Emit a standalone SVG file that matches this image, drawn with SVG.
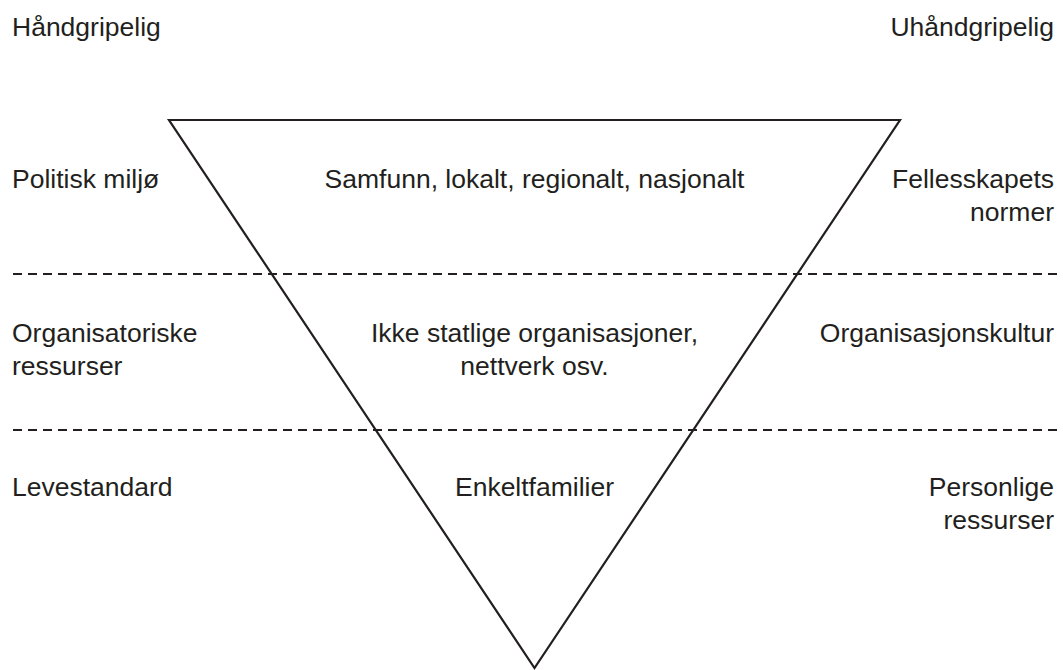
<svg xmlns="http://www.w3.org/2000/svg" width="1063" height="670" viewBox="0 0 1063 670">
<style>
text{font-family:"Liberation Sans",Arial,sans-serif;font-size:26.5px;fill:#231f20}
.l{text-anchor:start}.m{text-anchor:middle}.r{text-anchor:end}
.dash{stroke:#231f20;stroke-width:2;stroke-dasharray:9 6;fill:none}
.tri{stroke:#231f20;stroke-width:2.2;fill:none;stroke-linejoin:miter}
</style>
<rect width="1063" height="670" fill="#fff"/>
<g id="connectors">
<line class="dash" x1="13" y1="274" x2="1057" y2="274"/>
<line class="dash" x1="13" y1="430" x2="1057" y2="430"/>
</g>
<g id="triangle"><polygon class="tri" points="169,120 900,120 534.5,668"/></g>
<g id="header">
<text class="l" x="12" y="36">Håndgripelig</text>
<text class="r" x="1054" y="36">Uhåndgripelig</text>
</g>
<g id="row1">
<text class="l" x="12" y="188">Politisk miljø</text>
<text class="m" x="534.5" y="188">Samfunn, lokalt, regionalt, nasjonalt</text>
<text class="r" x="1054" y="188">Fellesskapets</text>
<text class="r" x="1054" y="221">normer</text>
</g>
<g id="row2">
<text class="l" x="12" y="342">Organisatoriske</text>
<text class="l" x="12" y="375">ressurser</text>
<text class="m" x="534.5" y="342">Ikke statlige organisasjoner,</text>
<text class="m" x="534.5" y="375">nettverk osv.</text>
<text class="r" x="1054" y="342">Organisasjonskultur</text>
</g>
<g id="row3">
<text class="l" x="12" y="496">Levestandard</text>
<text class="m" x="534.5" y="496">Enkeltfamilier</text>
<text class="r" x="1054" y="496">Personlige</text>
<text class="r" x="1054" y="529">ressurser</text>
</g>
</svg>
